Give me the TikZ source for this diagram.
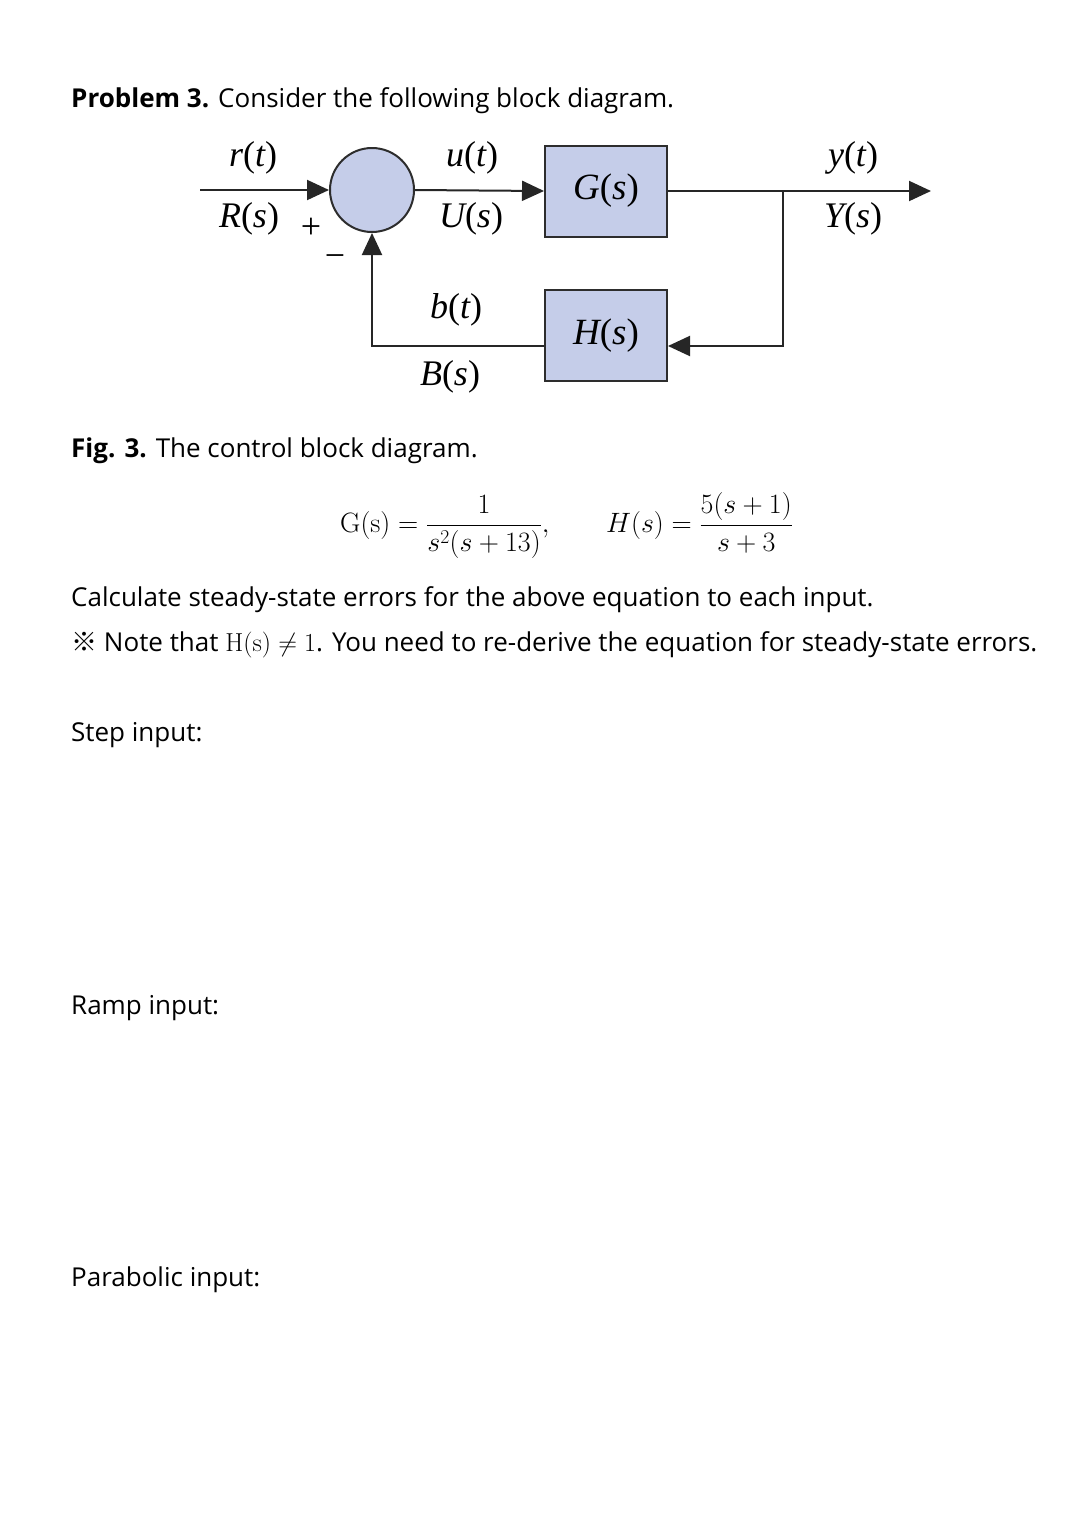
\RequirePackage{fix-cm}
\documentclass[tikz,border=0pt]{standalone}
\usepackage{amsmath}
\usepackage[no-math]{fontspec}
\setmainfont{Open Sans}
\newfontfamily\sigfont{Liberation Serif}
\newfontfamily\markfont{Noto Sans CJK KR}
\usetikzlibrary{arrows.meta, positioning, calc}

\definecolor{blkfill}{RGB}{197,205,233}
\definecolor{blkline}{RGB}{45,45,45}
\newcommand{\sig}[2]{{\sigfont\itshape #1\upshape(\itshape #2\upshape)}}

\begin{document}
\begin{tikzpicture}[
    x=1pt, y=-1pt,
    blk/.style={rectangle, draw=blkline, line width=2pt, fill=blkfill,
                minimum width=122pt, minimum height=91pt, inner sep=0pt,
                font=\fontsize{37}{40}\selectfont},
    sumnode/.style={circle, draw=blkline, line width=2pt, fill=blkfill,
                    minimum size=84pt, inner sep=0pt},
    lbl/.style={font=\fontsize{36}{40}\selectfont, inner sep=0pt},
    txt/.style={anchor=base west, inner sep=0pt, font=\fontsize{26}{31}\selectfont},
    eqn/.style={anchor=base west, inner sep=0pt, font=\fontsize{28}{32}\selectfont},
    arr/.style={-{Triangle[length=22pt,width=20pt]}, line width=2pt, draw=black!85},
]
\useasboundingbox (0,0) rectangle (1080,1537);

% heading
\node[txt] (title) at (71,107) {\textbf{Problem 3.} Consider the following block diagram.};

% block diagram
\node[sumnode] (sum) at (372,190) {};
\node[blk] (G) at (606,191) {\sig{G}{s}};
\node[blk] (H) at (606,335.5) {\sig{H}{s}};
\coordinate (in) at (200,190);
\coordinate (out) at (931,191);
\coordinate (split) at (783,191);

\draw[arr] (in) -- (sum.west);
\draw[arr] (sum.east) -- (G.west);
\draw[arr] (G.east) -- (out);
\draw[arr] (split) |- ($(H.east)+(0,10.5)$);
\draw[arr] ($(H.west)+(0,10.5)$) -| (sum.south);

\node[lbl] (rt) at (253,158) {\sig{r}{t}};
\node[lbl] (Rs) at (249,219) {\sig{R}{s}};
\node[lbl] (plus) at (311,228) {\sigfont +};
\node[lbl] (minus) at (335,261) {\sigfont −};
\node[lbl] (ut) at (472,158) {\sig{u}{t}};
\node[lbl] (Us) at (471,219) {\sig{U}{s}};
\node[lbl] (bt) at (456,310) {\sig{b}{t}};
\node[lbl] (Bs) at (450,377) {\sig{B}{s}};
\node[lbl] (yt) at (853,158) {\sig{y}{t}};
\node[lbl] (Ys) at (853,219) {\sig{Y}{s}};

% caption and equations
\node[txt] (cap) at (71,457) {\textbf{Fig. 3.} The control block diagram.};
\node[eqn] (geq) at (340,532) {$\mathrm{G(s)}=\dfrac{1}{s^2(s+13)},$};
\node[eqn] (heq) at (606,532) {$H(s)=\dfrac{5(s+1)}{s+3}$};

% question
\node[txt] (calc) at (71,606) {Calculate steady-state errors for the above equation to each input.};
\node[txt] (note) at (71,651) {{\markfont ※} Note that $\mathrm{H(s)}\neq 1$. You need to re-derive the equation for steady-state errors.};
\node[txt] (step) at (71,741) {Step input:};
\node[txt] (ramp) at (71,1014) {Ramp input:};
\node[txt] (para) at (71,1286) {Parabolic input:};
\end{tikzpicture}
\end{document}
